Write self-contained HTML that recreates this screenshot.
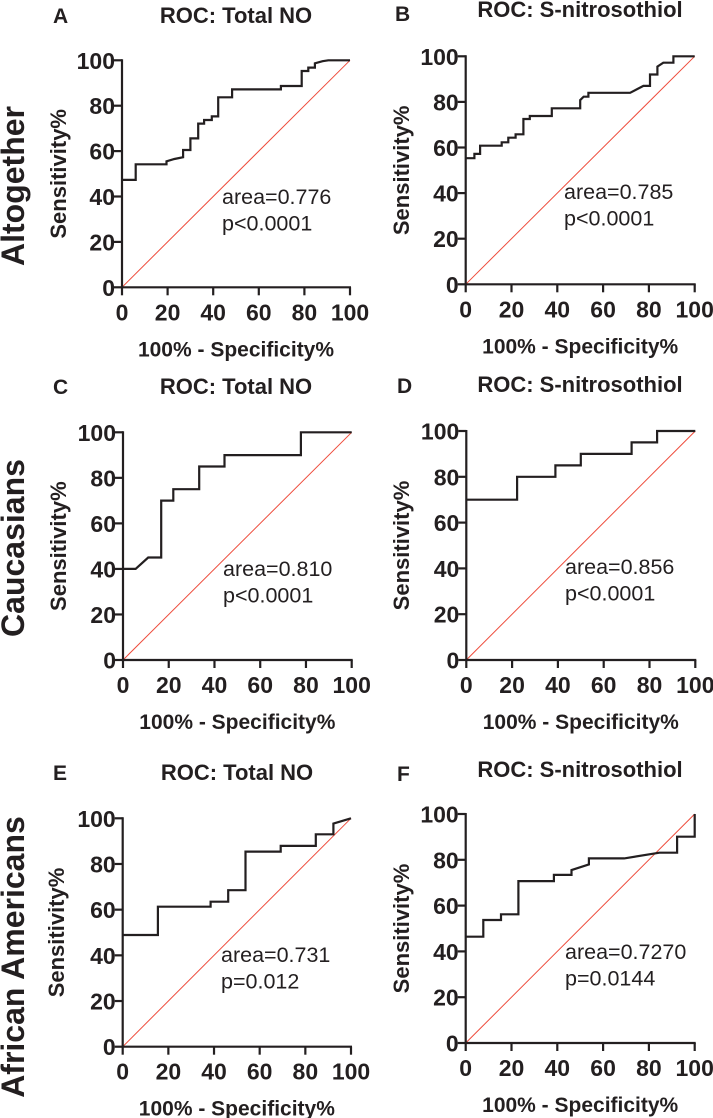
<!DOCTYPE html>
<html><head><meta charset="utf-8">
<style>
html,body{margin:0;padding:0;background:#fff;}
svg{display:block;}
text{font-family:"Liberation Sans",Arial,sans-serif;fill:#231f20;}
.b{font-weight:bold;}
</style></head>
<body>
<svg id="fig" width="713" height="1118" viewBox="0 0 713 1118" xmlns="http://www.w3.org/2000/svg"></svg>
<script>
// ---- data (x = 100% - Specificity%, y = Sensitivity%) ----
const tickValues = [0, 20, 40, 60, 80, 100];
const tickLabels = ["0", "20", "40", "60", "80", "100"];
const rowLabels = ["Altogether", "Caucasians", "African Americans"];
const aFpr = [0, 6, 6, 19.5, 19.5, 23, 26.8, 26.8, 30, 30, 33.4, 33.4, 36, 36, 39.4, 39.4, 42.2, 42.2, 48.3, 48.3, 69.7, 69.7, 78.8, 78.8, 81.7, 81.7, 84.6, 84.6, 88, 90.5, 100];
const aTpr = [47.3, 47.3, 54.2, 54.2, 55.5, 56.5, 57.3, 60.5, 60.5, 65.6, 65.6, 72.1, 72.1, 73.7, 73.7, 75.3, 75.3, 83.7, 83.7, 87.2, 87.2, 88.7, 88.7, 95.3, 95.3, 96.8, 96.8, 98.7, 99.6, 100, 100];
const bFpr = [0, 3.8, 3.8, 6.3, 6.3, 15.7, 15.7, 18.6, 18.6, 21.8, 21.8, 25.2, 25.2, 28, 28, 37.6, 37.6, 50, 50, 51.5, 53.6, 53.6, 71.8, 77.6, 80.5, 80.5, 83.7, 83.7, 86.3, 90.7, 90.7, 100];
const bTpr = [55.3, 55.3, 57.2, 57.2, 60.8, 60.8, 62.3, 62.3, 64.3, 64.3, 65.8, 65.8, 72.5, 72.5, 73.8, 73.8, 77.2, 77.2, 80.8, 82.3, 82.3, 84, 84, 87, 87, 92, 92, 95.5, 97.2, 97.2, 100, 100];
const cFpr = [0, 5.5, 11, 16.7, 16.7, 22, 22, 33.3, 33.3, 44.4, 44.4, 77.8, 77.8, 100];
const cTpr = [40, 40, 45, 45, 70, 70, 75, 75, 85, 85, 90, 90, 100, 100];
const dFpr = [0, 22.2, 22.2, 38.9, 38.9, 50, 50, 72.2, 72.2, 83.3, 83.3, 100];
const dTpr = [70, 70, 80, 80, 85, 85, 90, 90, 95, 95, 100, 100];
const eFpr = [0, 15.4, 15.4, 38.5, 38.5, 46.2, 46.2, 53.8, 53.8, 69.2, 69.2, 84.6, 84.6, 92.3, 92.3, 100];
const eTpr = [48.9, 48.9, 61.3, 61.3, 63.5, 63.5, 68.5, 68.5, 85.4, 85.4, 87.9, 87.9, 93, 93, 97.7, 100];
const fFpr = [0, 7.7, 7.7, 15.4, 15.4, 23, 23, 38.5, 38.5, 46.2, 46.2, 53.8, 53.8, 69.2, 84.6, 92.3, 92.3, 100, 100];
const fTpr = [46.4, 46.4, 53.7, 53.7, 56.2, 56.2, 70.7, 70.7, 73.4, 73.4, 75.5, 78, 80.6, 80.6, 83.1, 83.1, 90.1, 90.1, 100];

const NS = "http://www.w3.org/2000/svg";
const svg = document.getElementById("fig");
function mk(tag, attrs, parent) {
  const el = document.createElementNS(NS, tag);
  for (const k in attrs) el.setAttribute(k, attrs[k]);
  (parent || svg).appendChild(el);
  return el;
}

const panels = [
  {id:"a", letter:"A", title:"ROC: Total NO", x0:122, x1:350, y0:287.3, y1:60.3, fpr:aFpr, tpr:aTpr, area:"area=0.776", p:"p<0.0001", ax:222, ay:204, lx:53, ly:23, ty:23, tcx:236, sx:66},
  {id:"b", letter:"B", title:"ROC: S-nitrosothiol", x0:465.7, x1:694.7, y0:284.3, y1:56.3, fpr:bFpr, tpr:bTpr, area:"area=0.785", p:"p<0.0001", ax:564, ay:199, lx:395, ly:21, ty:17, tcx:580, sx:409},
  {id:"c", letter:"C", title:"ROC: Total NO", x0:123, x1:351.7, y0:660, y1:432.3, fpr:cFpr, tpr:cTpr, area:"area=0.810", p:"p<0.0001", ax:223, ay:576, lx:53, ly:394, ty:394, tcx:236, sx:66},
  {id:"d", letter:"D", title:"ROC: S-nitrosothiol", x0:466.3, x1:695.3, y0:660, y1:431, fpr:dFpr, tpr:dTpr, area:"area=0.856", p:"p<0.0001", ax:565, ay:574, lx:397, ly:393, ty:392, tcx:580, sx:409},
  {id:"e", letter:"E", title:"ROC: Total NO", x0:122.7, x1:351, y0:1046.7, y1:818.3, fpr:eFpr, tpr:eTpr, area:"area=0.731", p:"p=0.012", ax:221, ay:962, lx:53, ly:780, ty:780, tcx:237, sx:64},
  {id:"f", letter:"F", title:"ROC: S-nitrosothiol", x0:465.7, x1:694.7, y0:1043, y1:814, fpr:fFpr, tpr:fTpr, area:"area=0.7270", p:"p=0.0144", ax:565, ay:959, lx:397, ly:781, ty:777, tcx:580, sx:409}
];

panels.forEach(P => {
  const xs = v => P.x0 + (P.x1 - P.x0) * v / 100;
  const ys = v => P.y0 + (P.y1 - P.y0) * v / 100;
  const g = mk("g", {});
  
  

  const let_ = mk("text", {x:P.lx, y:P.ly, "font-size":21, class:"b"}, g);
  let_.textContent = P.letter;
  
  

  const t = mk("text", {x:P.tcx, y:P.ty, "font-size":22, class:"b", "text-anchor":"middle"}, g);
  t.textContent = P.title;
  
  

  // diagonal reference
  const diag = mk("line", {x1:xs(0), y1:ys(0), x2:xs(100), y2:ys(100), stroke:"#ee4b3b", "stroke-width":1}, g);
  
  

  // axes
  const axes = mk("path", {d:`M${xs(0)},${ys(100)-1} V${ys(0)} H${xs(100)+1}`, fill:"none", stroke:"#231f20", "stroke-width":2.2}, g);
  
  

  tickValues.forEach((v, i) => {
    const tx = mk("line", {x1:xs(v), x2:xs(v), y1:ys(0), y2:ys(0)+8, stroke:"#231f20", "stroke-width":2.2}, g);
    
    
    const lx = mk("text", {x:xs(v), y:ys(0)+33, "font-size":23, class:"b", "text-anchor":"middle"}, g);
    lx.textContent = tickLabels[i];
    
    
    const ty = mk("line", {x1:xs(0)-8, x2:xs(0), y1:ys(v), y2:ys(v), stroke:"#231f20", "stroke-width":2.2}, g);
    
    
    const ly = mk("text", {x:xs(0)-7, y:ys(v)+8.5, "font-size":23, class:"b", "text-anchor":"end"}, g);
    ly.textContent = tickLabels[i];
    
    
  });

  const pts = P.fpr.map((v, i) => xs(v).toFixed(1) + "," + ys(P.tpr[i]).toFixed(1)).join(" ");
  const curve = mk("polyline", {points:pts, fill:"none", stroke:"#231f20", "stroke-width":2.2, "stroke-linejoin":"miter"}, g);
  
  

  const a1 = mk("text", {x:P.ax, y:P.ay, "font-size":21.5}, g);
  a1.textContent = P.area;
  
  
  const a2 = mk("text", {x:P.ax, y:P.ay + 26.5, "font-size":21.5}, g);
  a2.textContent = P.p;
  
  

  const xl = mk("text", {x:(xs(0)+xs(100))/2, y:ys(0)+69, "font-size":21, class:"b", "text-anchor":"middle"}, g);
  xl.textContent = "100% - Specificity%";
  
  

  const cy = (ys(0)+ys(100))/2;
  const yl = mk("text", {x:P.sx, y:cy, "font-size":22, class:"b", "text-anchor":"middle", transform:`rotate(-90 ${P.sx} ${cy})`}, g);
  yl.textContent = "Sensitivity%";
  
  
});

const rowCenters = [186, 548, 957];
rowLabels.forEach((r, i) => {
  const t = mk("text", {x:24, y:rowCenters[i], "font-size":32, class:"b", "text-anchor":"middle", transform:`rotate(-90 24 ${rowCenters[i]})`});
  t.textContent = r;
  
  
});
</script>
</body></html>
